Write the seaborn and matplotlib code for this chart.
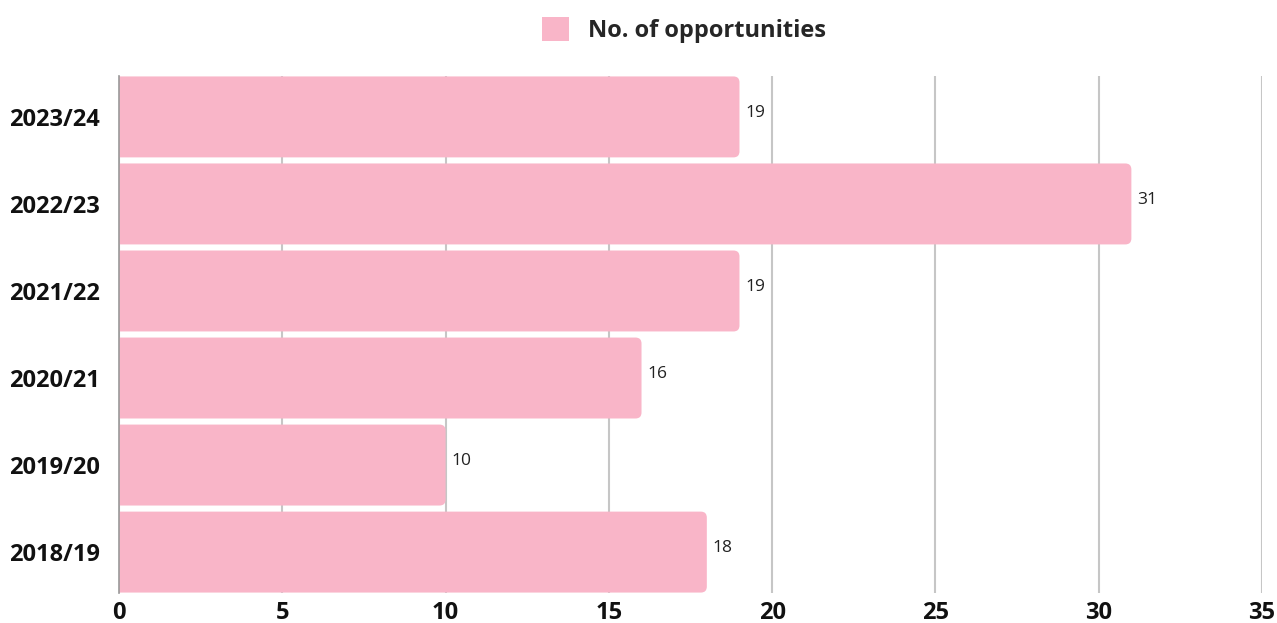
import matplotlib
matplotlib.use("Agg")
import matplotlib.pyplot as plt
from matplotlib.patches import FancyBboxPatch, Patch
import seaborn as sns
import pandas as pd

years = ["2023/24", "2022/23", "2021/22", "2020/21", "2019/20", "2018/19"]
opportunities = [19, 31, 19, 16, 10, 18]
x_ticks = [0, 5, 10, 15, 20, 25, 30, 35]
series_name = "No. of opportunities"

bar_color = "#F9B5C8"
grid_color = "#C6C6C6"
bar_width = 0.93

sns.set_theme(style="white")
plt.rcParams["font.family"] = ["Open Sans", "DejaVu Sans"]

df = pd.DataFrame({"year": years, "count": opportunities})

fig = plt.figure(figsize=(12.77, 6.23), dpi=100)
ax = fig.add_axes([119 / 1277, 1 - 593 / 623, (1262 - 119) / 1277, (593 - 76) / 623])

sns.barplot(data=df, x="count", y="year", orient="h", color=bar_color,
            saturation=1, width=bar_width, ax=ax, zorder=2)

ax.set_xlim(0, 35)
half = bar_width / 2 + 0.005
ax.set_ylim(len(years) - 1 + half, -half)

# Replace plain rectangles with bars that have rounded right-hand corners
x_px = (1262 - 119) / 35.0
y_px = (593 - 76) / (len(years) - 1 + 2 * half)
radius_x = 6 / x_px
aspect = (6 / y_px) / radius_x
for rect in list(ax.patches):
    x0, y0 = rect.get_x(), rect.get_y()
    w, h = rect.get_width(), rect.get_height()
    rounded = FancyBboxPatch((x0 - 1.0, y0), w + 1.0, h,
                             boxstyle=f"round,pad=0,rounding_size={radius_x}",
                             mutation_aspect=aspect,
                             facecolor=bar_color, edgecolor="none",
                             zorder=2, clip_on=True)
    ax.add_patch(rounded)
    rect.remove()
    ax.text(w + 0.17, y0 + h / 2 - 0.05, f"{w:g}", va="center", ha="left",
            fontsize=12.5, fontweight="normal", color="#222222", zorder=3)

ax.set_xticks(x_ticks)
ax.set_xticklabels([str(t) for t in x_ticks], fontsize=17, fontweight="bold", color="#111111")
ax.set_yticks(range(len(years)))
ax.set_yticklabels(years, fontsize=17, fontweight="bold", color="#111111")
ax.tick_params(axis="y", length=0, pad=14)
ax.tick_params(axis="x", length=0, pad=6)
ax.set_xlabel("")
ax.set_ylabel("")

ax.xaxis.grid(True, color=grid_color, linewidth=1.5, zorder=0)
ax.yaxis.grid(False)
ax.set_axisbelow(True)
for side in ["top", "right", "bottom"]:
    ax.spines[side].set_visible(False)
ax.spines["left"].set_color("#999999")
ax.spines["left"].set_linewidth(1.2)
ax.spines["left"].set_zorder(4)

handle = Patch(facecolor=bar_color, edgecolor="none")
fig.legend([handle], [series_name], loc="center", bbox_to_anchor=(684 / 1277, 1 - 30 / 623),
           frameon=False, handlelength=1.15, handleheight=1.15, handletextpad=0.8,
           prop={"size": 17, "weight": "bold"})

fig.savefig("out.png", dpi=100)
